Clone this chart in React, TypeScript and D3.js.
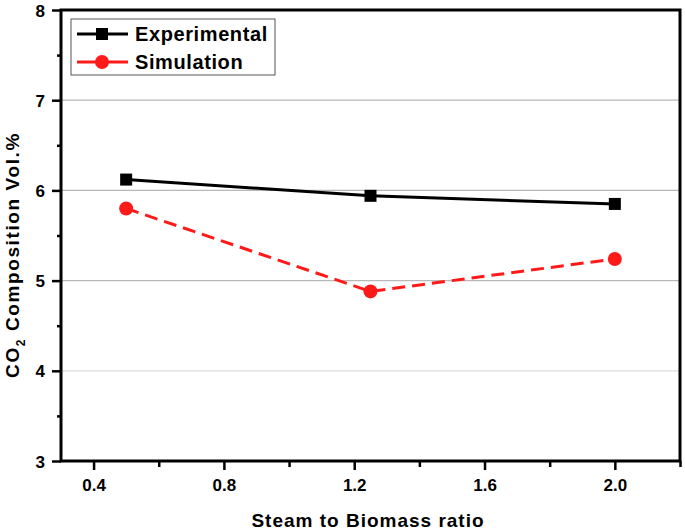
import React, { useRef, useEffect } from "react";
import * as d3 from "d3";

const ratios = [0.5, 1.25, 2.0];
const experimental = [6.12, 5.94, 5.85];
const simulation = [5.8, 4.88, 5.24];
const xTicks = [0.4, 0.8, 1.2, 1.6, 2.0];
const xMinor = [0.6, 1.0, 1.4, 1.8, 2.2];
const yTicks = [3, 4, 5, 6, 7, 8];
const yMinor = [3.5, 4.5, 5.5, 6.5, 7.5];

const App = () => {
  const ref = useRef<SVGSVGElement>(null);

  useEffect(() => {
    const W = 685, H = 530;
    const m = { left: 61, right: 680, top: 10, bottom: 461 };
    const svg = d3.select(ref.current).attr("width", W).attr("height", H);
    svg.selectAll("*").remove();

    const x = d3.scaleLinear().domain([0.3, 2.2]).range([m.left, m.right]);
    const y = d3.scaleLinear().domain([3, 8]).range([m.bottom, m.top]);
    const font = "Arial, 'Liberation Sans', sans-serif";

    // grid
    svg.append("g").selectAll("line").data([4, 5, 6, 7]).join("line")
      .attr("x1", m.left).attr("x2", m.right)
      .attr("y1", d => y(d)).attr("y2", d => y(d))
      .attr("stroke", d => (d === 4 ? "#dddddd" : "#b8b8b8")).attr("stroke-width", 1.2);

    // y axis
    const yAxis = svg.append("g").attr("transform", `translate(${m.left},0)`)
      .call(d3.axisLeft(y).tickValues(yTicks).tickSize(9).tickFormat(d3.format("d")));
    yAxis.select(".domain").remove();
    yAxis.selectAll("line").attr("stroke-width", 2.5);
    yAxis.selectAll("text").style("font-family", font).style("font-weight", "bold")
      .style("font-size", "17px").attr("x", -16).attr("dy", "0.36em");
    svg.append("g").attr("transform", `translate(${m.left},0)`)
      .call(d3.axisLeft(y).tickValues(yMinor).tickSize(4).tickFormat(() => ""))
      .call(g => g.select(".domain").remove())
      .selectAll("line").attr("stroke-width", 2.5);

    // x axis
    const xAxis = svg.append("g").attr("transform", `translate(0,${m.bottom})`)
      .call(d3.axisBottom(x).tickValues(xTicks).tickSize(9).tickFormat(d3.format(".1f")));
    xAxis.select(".domain").remove();
    xAxis.selectAll("line").attr("stroke-width", 2.5);
    xAxis.selectAll("text").style("font-family", font).style("font-weight", "bold")
      .style("font-size", "17px").attr("y", 30).attr("dy", 0);
    svg.append("g").attr("transform", `translate(0,${m.bottom})`)
      .call(d3.axisBottom(x).tickValues(xMinor).tickSize(6).tickFormat(() => ""))
      .call(g => g.select(".domain").remove())
      .selectAll("line").attr("stroke-width", 2.5);

    // frame
    svg.append("rect").attr("x", m.left).attr("y", m.top)
      .attr("width", m.right - m.left).attr("height", m.bottom - m.top)
      .attr("fill", "none").attr("stroke", "black").attr("stroke-width", 3);

    const line = d3.line<number>().x((d, i) => x(ratios[i])).y(d => y(d));

    svg.append("path").datum(experimental).attr("d", line)
      .attr("fill", "none").attr("stroke", "black").attr("stroke-width", 3);
    svg.append("g").selectAll("rect").data(experimental).join("rect")
      .attr("x", (d, i) => x(ratios[i]) - 6).attr("y", d => y(d) - 6)
      .attr("width", 12).attr("height", 12).attr("fill", "black");

    svg.append("path").datum(simulation).attr("d", line)
      .attr("fill", "none").attr("stroke", "#ff1a1a").attr("stroke-width", 3)
      .attr("stroke-dasharray", "13,7");
    svg.append("g").selectAll("circle").data(simulation).join("circle")
      .attr("cx", (d, i) => x(ratios[i])).attr("cy", d => y(d))
      .attr("r", 7).attr("fill", "#ff1a1a");

    // legend
    const lg = svg.append("g");
    lg.append("rect").attr("x", 71).attr("y", 19).attr("width", 204).attr("height", 56)
      .attr("fill", "white").attr("stroke", "#555").attr("stroke-width", 1);
    const items = [
      { name: "Experimental", color: "black", shape: "square", ly: 34 },
      { name: "Simulation", color: "#ff1a1a", shape: "circle", ly: 62 },
    ];
    items.forEach(it => {
      lg.append("line").attr("x1", 77).attr("x2", 128).attr("y1", it.ly).attr("y2", it.ly)
        .attr("stroke", it.color).attr("stroke-width", 3);
      if (it.shape === "square") {
        lg.append("rect").attr("x", 96).attr("y", it.ly - 6).attr("width", 12).attr("height", 12)
          .attr("fill", it.color);
      } else {
        lg.append("circle").attr("cx", 102).attr("cy", it.ly).attr("r", 7).attr("fill", it.color);
      }
      lg.append("text").attr("x", 135).attr("y", it.ly + 7).text(it.name)
        .style("font-family", font).style("font-weight", "bold").style("font-size", "20px")
        .style("letter-spacing", "0.6px");
    });

    // axis titles
    svg.append("text").attr("x", 368).attr("y", 527)
      .attr("text-anchor", "middle").style("font-family", font).style("font-weight", "bold")
      .style("font-size", "19px").style("letter-spacing", "1px").text("Steam to Biomass ratio");

    const yt = svg.append("text").attr("transform", `translate(19,255) rotate(-90)`)
      .attr("text-anchor", "middle").style("font-family", font).style("font-weight", "bold")
      .style("font-size", "19px").style("letter-spacing", "1.6px");
    yt.append("tspan").text("CO");
    yt.append("tspan").style("font-size", "12px").attr("dy", 6).text("2");
    yt.append("tspan").attr("dy", -6).text(" Composition Vol.%");
  }, []);

  return (
    <div>
      <svg ref={ref} style={{ position: "absolute", left: 0, top: 0, display: "block" }}></svg>
    </div>
  );
};

export default App;
